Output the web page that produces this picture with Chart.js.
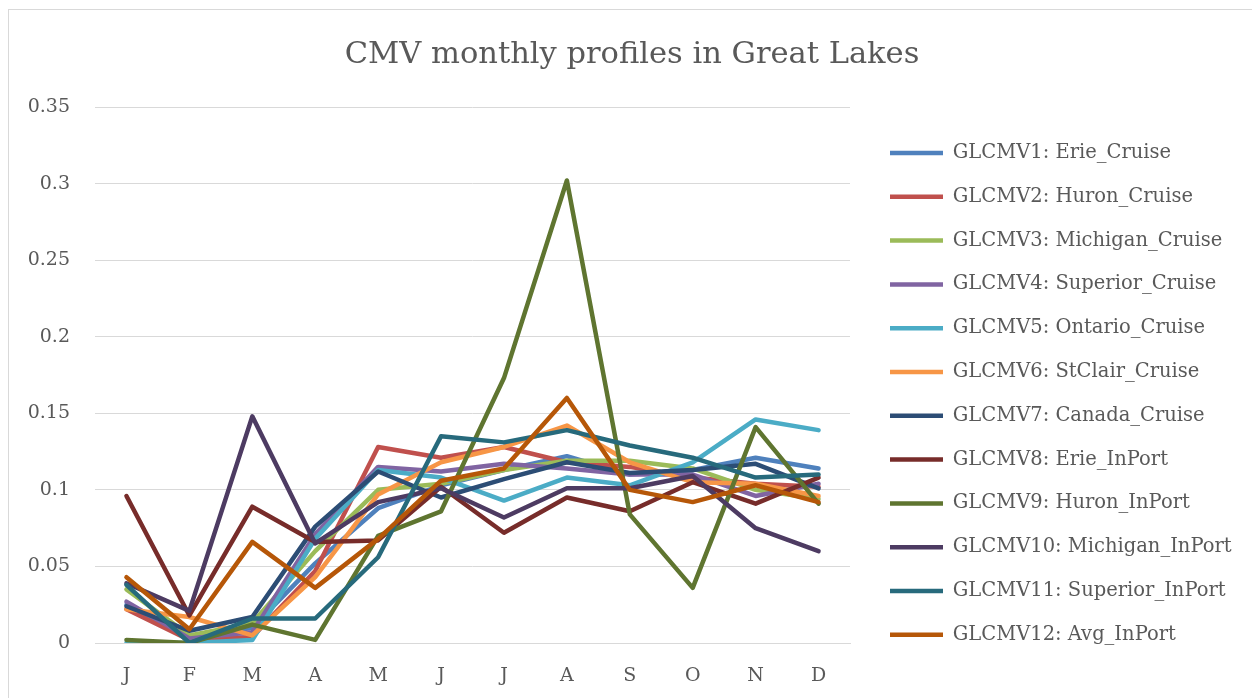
<!DOCTYPE html>
<html>
<head>
<meta charset="utf-8">
<title>CMV monthly profiles in Great Lakes</title>
<script src="https://cdn.jsdelivr.net/npm/chart.js@4.4.1/dist/chart.umd.min.js"></script>
<style>
  html, body { margin: 0; background: #fff; }
  #wrap { position: relative; width: 1252px; height: 698px; overflow: hidden; }
  #frame { position: absolute; left: 8px; top: 9px; width: 1400px; height: 800px; border: 1.5px solid #d9d9d9; }
  #wrap canvas { position: absolute; left: 0; top: 0; }
</style>
</head>
<body>
<div id="wrap">
  <div id="frame"></div>
  <canvas id="cmvChart" width="1252" height="698"></canvas>
</div>
<script>
// month categories and y ticks
const months = ['J', 'F', 'M', 'A', 'M', 'J', 'J', 'A', 'S', 'O', 'N', 'D'];
const yMin = 0, yMax = 0.35, yStep = 0.05;

const seriesNames = [
  'GLCMV1: Erie_Cruise', 'GLCMV2: Huron_Cruise', 'GLCMV3: Michigan_Cruise',
  'GLCMV4: Superior_Cruise', 'GLCMV5: Ontario_Cruise', 'GLCMV6: StClair_Cruise',
  'GLCMV7: Canada_Cruise', 'GLCMV8: Erie_InPort', 'GLCMV9: Huron_InPort',
  'GLCMV10: Michigan_InPort', 'GLCMV11: Superior_InPort', 'GLCMV12: Avg_InPort'
];
const seriesColors = [
  '#4f81bd', '#c0504d', '#9bbb59', '#8064a2', '#4bacc6', '#f79646',
  '#2c4d75', '#772c2a', '#5f7530', '#4d3b62', '#276a7c', '#b65708'
];

// values
const erieCruise      = [0.025, 0.003, 0.010, 0.052, 0.088, 0.103, 0.113, 0.122, 0.110, 0.113, 0.121, 0.114];
const huronCruise     = [0.022, 0.002, 0.004, 0.047, 0.128, 0.121, 0.128, 0.118, 0.115, 0.108, 0.104, 0.102];
const michiganCruise  = [0.035, 0.005, 0.013, 0.060, 0.100, 0.104, 0.113, 0.119, 0.119, 0.114, 0.100, 0.094];
const superiorCruise  = [0.027, 0.003, 0.007, 0.071, 0.115, 0.112, 0.117, 0.114, 0.110, 0.110, 0.096, 0.104];
const ontarioCruise   = [0.000, 0.000, 0.002, 0.068, 0.113, 0.108, 0.093, 0.108, 0.103, 0.118, 0.146, 0.139];
const stclairCruise   = [0.022, 0.017, 0.005, 0.043, 0.097, 0.118, 0.128, 0.142, 0.118, 0.105, 0.104, 0.096];
const canadaCruise    = [0.024, 0.008, 0.017, 0.076, 0.112, 0.095, 0.107, 0.118, 0.111, 0.113, 0.117, 0.101];
const erieInPort      = [0.096, 0.018, 0.089, 0.066, 0.067, 0.102, 0.072, 0.095, 0.086, 0.105, 0.091, 0.108];
const huronInPort     = [0.002, 0.000, 0.012, 0.002, 0.070, 0.086, 0.173, 0.302, 0.084, 0.036, 0.141, 0.091];
const michiganInPort  = [0.039, 0.021, 0.148, 0.065, 0.092, 0.101, 0.082, 0.101, 0.101, 0.109, 0.075, 0.060];
const superiorInPort  = [0.038, 0.000, 0.016, 0.016, 0.056, 0.135, 0.131, 0.139, 0.129, 0.121, 0.108, 0.110];
const avgInPort       = [0.043, 0.009, 0.066, 0.036, 0.068, 0.106, 0.114, 0.160, 0.100, 0.092, 0.103, 0.092];

const seriesValues = [
  erieCruise, huronCruise, michiganCruise, superiorCruise, ontarioCruise, stclairCruise,
  canadaCruise, erieInPort, huronInPort, michiganInPort, superiorInPort, avgInPort
];

const FONT = "'DejaVu Serif', serif";
const TEXT = '#595959';
const GRID = '#d9d9d9';

// target geometry of the Excel original
const W = 1252, H = 698;
const plotLeft = 95, plotTop = 107, plotBottom = 643, plotRight = 850;
const titleCenterX = 632, titleCenterY = 55, titleSize = 30.5;
const legendFont = 19.5, legendPad = 24.3, swatchW = 53;
const legendItemX = 890, legendFirstRowY = 153;

// measure widest legend label so the plot's right edge lands at plotRight
const mctx = document.createElement('canvas').getContext('2d');
mctx.font = legendFont + 'px ' + FONT;
const widest = Math.max(...seriesNames.map(n => mctx.measureText(n).width));
const legendW = legendPad + swatchW + legendFont / 2 + widest + 10;
const legendLeft = legendItemX - legendPad;
const padRight = Math.max(0, W - legendLeft - legendW);
const padLeft = Math.max(0, 2 * titleCenterX - W + padRight);   // keeps the title centred where Excel put it

// empty legend title just pushes the rows down to where they sit in the original
const rowStep = legendFont + legendPad;
const colHeight = seriesNames.length * rowStep;
const legendTitleH = 2 * (legendFirstRowY - legendFont / 2) - legendPad - (H - colHeight);

const datasets = seriesNames.map((name, i) => ({
  label: name,
  data: seriesValues[i],
  borderColor: seriesColors[i],
  backgroundColor: seriesColors[i],
  borderWidth: 4.5,
  borderJoinStyle: 'round',
  borderCapStyle: 'round',
  pointRadius: 0,
  pointHoverRadius: 0,
  tension: 0,
  fill: false,
  order: seriesNames.length - 1 - i   // later series drawn on top, like Excel
}));

let cmvChart = null;
const ctx = document.getElementById('cmvChart')?.getContext('2d');
if (cmvChart) { try { cmvChart.destroy(); } catch (e) {} }
cmvChart = new Chart(ctx, {
  type: 'line',
  data: { labels: months, datasets },
  options: {
    responsive: false,
    animation: false,
    layout: { padding: { left: padLeft, right: padRight, top: 0, bottom: 0 } },
    plugins: {
      title: {
        display: true,
        text: 'CMV monthly profiles in Great Lakes',
        color: TEXT,
        font: { family: FONT, size: titleSize, weight: 'normal', lineHeight: 1.2 },
        padding: {
          top: titleCenterY - titleSize * 0.6,
          bottom: plotTop - (titleCenterY - titleSize * 0.6) - titleSize * 1.2
        }
      },
      legend: {
        position: 'right',
        fullSize: true,
        maxWidth: 800,
        title: { display: true, text: '', font: { size: 20, lineHeight: 1 }, padding: { top: 0, bottom: legendTitleH - 20 } },
        labels: {
          usePointStyle: true,
          pointStyle: 'line',
          pointStyleWidth: swatchW,
          padding: legendPad,
          color: TEXT,
          font: { family: FONT, size: legendFont },
          sort: (a, b) => a.datasetIndex - b.datasetIndex
        }
      },
      tooltip: { enabled: false }
    },
    scales: {
      x: {
        offset: true,
        grid: { display: false, drawTicks: false },
        border: { display: true, color: GRID, width: 1 },
        ticks: { color: TEXT, font: { family: FONT, size: 19 }, padding: 21.6, maxRotation: 0, autoSkip: false },
        afterFit: (s) => { s.height = H - plotBottom; }
      },
      y: {
        min: yMin, max: yMax,
        grid: { color: GRID, lineWidth: 1, drawTicks: false },
        border: { display: false },
        ticks: {
          stepSize: yStep, color: TEXT, font: { family: FONT, size: 19 }, padding: 25,
          callback: (v) => String(+Number(v).toFixed(2))
        },
        afterFit: (s) => { s.width = plotLeft - padLeft; }
      },
      spacer: {
        type: 'linear',
        position: 'right',
        display: true,
        grid: { display: false, drawTicks: false },
        border: { display: false },
        ticks: { display: false },
        afterFit: (s) => { s.width = legendLeft - plotRight; }
      }
    }
  }
});
</script>
</body>
</html>
